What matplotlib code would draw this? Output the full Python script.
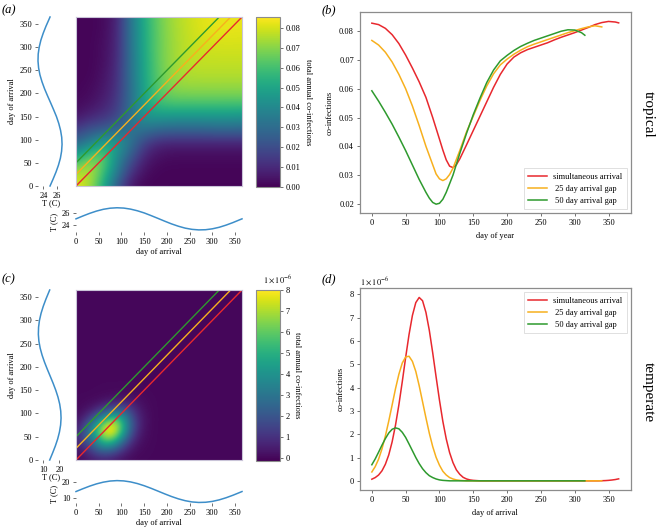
import numpy as np
import matplotlib
matplotlib.use('Agg')
import matplotlib.pyplot as plt

plt.rcParams['font.family'] = ['Liberation Serif', 'DejaVu Serif']
plt.rcParams['mathtext.fontset'] = 'stix'
plt.rcParams['font.size'] = 6
plt.rcParams['axes.linewidth'] = 0.8

# ---------------- data ----------------
# temperature seasonality (day of year -> deg C)
temp_days = [0, 15, 30, 45, 60, 75, 90, 105, 120, 135, 150, 165, 180, 195, 210, 225,
             240, 255, 270, 285, 300, 315, 330, 345, 360, 365]
temp_trop = [25.00, 25.46, 25.89, 26.26, 26.55, 26.73, 26.80, 26.75, 26.58, 26.31, 25.96,
             25.53, 25.08, 24.62, 24.18, 23.80, 23.49, 23.29, 23.20, 23.23, 23.38, 23.63,
             23.98, 24.39, 24.85, 25.00]
temp_temp = [14.00, 15.81, 17.51, 18.97, 20.09, 20.82, 21.10, 20.90, 20.25, 19.18, 17.77,
             16.11, 14.31, 12.49, 10.77, 9.26, 8.06, 7.25, 6.91, 7.04, 7.61, 8.61, 9.97,
             11.59, 13.39, 14.00]

# arrival gaps of the three scenarios
gaps = [0, 25, 50]
labels = ['simultaneous arrival', ' 25 day arrival gap', ' 50 day arrival gap']
colors = ['#e8282e', '#f7b01e', '#2e9a2e']

# tropical heat map (values x 1e-3), rows = day of arrival (y) 0..365, cols = day (x) 0..365
heat_a_days = [0, 30, 61, 91, 122, 152, 183, 213, 243, 274, 304, 335, 365]
heat_a = [
    [83, 74, 52, 22, 4, 1, 1, 1, 1, 1, 1, 1, 1],
    [75, 78.5, 60, 35, 12, 3, 1, 1, 1, 1, 1, 1, 1],
    [52, 68, 67, 40, 22, 7, 3, 2, 2, 2, 2, 2, 2],
    [30, 38, 53, 48, 32, 15, 8, 7, 7, 7, 7, 7, 7],
    [15, 22, 24, 30, 33, 32, 28, 27, 27, 27, 28, 28, 28],
    [4, 8, 12, 17, 33, 46, 47, 46, 46, 46, 46, 46, 45],
    [2, 3, 7, 14, 32, 50, 61, 63, 63, 63, 63, 63, 63],
    [1, 2, 5, 12, 32, 51, 63.5, 71, 72, 72, 72, 72, 72],
    [1, 1, 4, 11, 33, 52, 65, 72.5, 75.5, 76, 76, 76, 76],
    [1, 1, 3, 10, 33, 52, 66, 73, 77, 78, 78, 78, 78],
    [1, 1, 3, 9, 34, 53, 66, 73, 77.5, 79, 80, 80, 80],
    [1, 1, 2, 9, 34, 53, 66, 73.5, 77.5, 81, 82, 82.5, 82],
    [1, 1, 2, 8, 35, 54, 66.5, 74, 78, 81.5, 83, 82.5, 83],
]

# temperate heat map blob (values x 1e-6), days 0..165 step 15; zero elsewhere (grid step 15)
heat_c_block = [
    [0.07, 0.19, 0.38, 0.57, 0.66, 0.59, 0.40, 0.21, 0.08, 0.02, 0.01, 0.00],
    [0.22, 0.43, 0.90, 1.46, 1.80, 1.69, 1.22, 0.66, 0.28, 0.09, 0.03, 0.01],
    [0.46, 0.96, 1.67, 2.85, 3.73, 3.71, 2.82, 1.63, 0.72, 0.24, 0.07, 0.02],
    [0.66, 1.51, 2.80, 4.25, 5.88, 6.21, 4.99, 3.07, 1.44, 0.52, 0.14, 0.04],
    [0.66, 1.62, 3.24, 5.30, 7.09, 7.91, 6.76, 4.40, 2.19, 0.83, 0.24, 0.05],
    [0.45, 1.20, 2.59, 4.56, 6.56, 7.72, 6.98, 4.81, 2.53, 1.02, 0.31, 0.07],
    [0.21, 0.61, 1.42, 2.70, 4.19, 5.30, 5.49, 4.01, 2.24, 0.95, 0.31, 0.08],
    [0.07, 0.21, 0.54, 1.10, 1.84, 2.51, 2.80, 2.55, 1.51, 0.68, 0.23, 0.06],
    [0.02, 0.06, 0.14, 0.31, 0.56, 0.82, 0.99, 0.96, 0.78, 0.37, 0.14, 0.04],
    [0.01, 0.02, 0.04, 0.06, 0.12, 0.18, 0.24, 0.25, 0.22, 0.15, 0.06, 0.02],
    [0.00, 0.00, 0.00, 0.02, 0.02, 0.03, 0.04, 0.05, 0.04, 0.03, 0.02, 0.00],
    [0.00, 0.00, 0.00, 0.00, 0.01, 0.01, 0.01, 0.01, 0.01, 0.01, 0.00, 0.00],
]
heat_c_step = 15

# (b) tropical co-infections along the diagonals
b_red_days = [0, 10, 20, 30, 40, 50, 60, 70, 80, 90, 100, 105, 110, 115, 120, 125, 130, 140,
              150, 160, 170, 180, 190, 200, 210, 220, 230, 240, 250, 260, 270, 280, 290, 300,
              310, 320, 330, 340, 350, 360, 365]
b_red = [0.0828, 0.0823, 0.0810, 0.0788, 0.0757, 0.0717, 0.0672, 0.0624, 0.0570, 0.0500,
         0.0425, 0.0387, 0.0353, 0.0331, 0.0326, 0.0336, 0.0356, 0.0405, 0.0455, 0.0505,
         0.0555, 0.0605, 0.0650, 0.0686, 0.0710, 0.0725, 0.0736, 0.0744, 0.0752, 0.0760,
         0.0770, 0.0779, 0.0787, 0.0795, 0.0804, 0.0813, 0.0823, 0.0830, 0.0834, 0.0832,
         0.0829]
b_orange_days = [0, 10, 20, 30, 40, 50, 60, 70, 80, 90, 95, 100, 105, 110, 115, 120, 130,
                 140, 150, 160, 170, 180, 190, 200, 210, 220, 230, 240, 250, 260, 270, 280,
                 290, 300, 310, 320, 330, 340]
b_orange = [0.0768, 0.0752, 0.0727, 0.0693, 0.0650, 0.0600, 0.0540, 0.0472, 0.0400, 0.0336,
            0.0304, 0.0287, 0.0281, 0.0287, 0.0302, 0.0324, 0.0385, 0.0450, 0.0505, 0.0560,
            0.0610, 0.0652, 0.0683, 0.0703, 0.0720, 0.0734, 0.0746, 0.0755, 0.0763, 0.0771,
            0.0779, 0.0787, 0.0795, 0.0802, 0.0809, 0.0815, 0.0819, 0.0815]
b_green_days = [0, 10, 20, 30, 40, 50, 60, 70, 80, 85, 90, 95, 100, 105, 110, 120, 130, 140,
                150, 160, 170, 180, 190, 200, 210, 220, 230, 240, 250, 260, 270, 280, 290,
                300, 310, 315]
b_green = [0.0593, 0.0557, 0.0518, 0.0477, 0.0432, 0.0385, 0.0335, 0.0285, 0.0240, 0.0220,
           0.0205, 0.0199, 0.0202, 0.0216, 0.0240, 0.0300, 0.0375, 0.0445, 0.0510, 0.0568,
           0.0622, 0.0665, 0.0697, 0.0716, 0.0733, 0.0747, 0.0758, 0.0768, 0.0776, 0.0784,
           0.0792, 0.0800, 0.0805, 0.0804, 0.0795, 0.0786]

# (d) temperate co-infections (x 1e-6), days step 5
d_red = [0.07, 0.14, 0.25, 0.43, 0.71, 1.11, 1.67, 2.39, 3.26, 4.25, 5.29, 6.27, 7.09, 7.64,
         7.86, 7.72, 7.22, 6.45, 5.49, 4.46, 3.46, 2.55, 1.80, 1.21, 0.78, 0.47, 0.28, 0.15,
         0.08, 0.04, 0.02, 0.01,
         0, 0, 0, 0, 0, 0, 0, 0, 0, 0, 0, 0, 0, 0, 0, 0, 0, 0, 0, 0, 0, 0, 0, 0, 0, 0, 0, 0,
         0, 0, 0, 0, 0, 0, 0, 0,
         0.005, 0.01, 0.02, 0.035, 0.055, 0.085]
d_orange = [0.38, 0.61, 0.93, 1.37, 1.92, 2.56, 3.25, 3.95, 4.57, 5.05, 5.31, 5.34, 5.12,
            4.69, 4.08, 3.39, 2.70, 2.04, 1.47, 1.01, 0.67, 0.41, 0.25, 0.14, 0.08, 0.04,
            0.02, 0.01, 0.0,
            0, 0, 0, 0, 0, 0, 0, 0, 0, 0, 0, 0, 0, 0, 0, 0, 0, 0, 0, 0, 0, 0, 0, 0, 0, 0, 0,
            0, 0, 0, 0, 0, 0, 0, 0, 0, 0, 0, 0, 0]
d_green = [0.69, 0.94, 1.23, 1.53, 1.81, 2.05, 2.21, 2.27, 2.23, 2.08, 1.86, 1.58, 1.29,
           1.00, 0.74, 0.52, 0.35, 0.22, 0.14, 0.08, 0.04, 0.02, 0.01, 0.0,
           0, 0, 0, 0, 0, 0, 0, 0, 0, 0, 0, 0, 0, 0, 0, 0, 0, 0, 0, 0, 0, 0, 0, 0, 0, 0, 0,
           0, 0, 0, 0, 0, 0, 0, 0, 0, 0, 0, 0, 0]
d_step = 5

# ---------------- figure ----------------
W, H = 656, 528
fig = plt.figure(figsize=(W / 100, H / 100), dpi=100)
tcol = '#3d8ec9'
spcol = '0.55'


def ax_px(x0, y0, x1, y1):
    return fig.add_axes([x0 / W, 1 - y1 / H, (x1 - x0) / W, (y1 - y0) / H])


def style_ticks(ax):
    ax.tick_params(direction='out', length=2.5, width=0.6, color='0.35', pad=1.5,
                   labelsize=6)


def no_spines(ax):
    for s in ax.spines.values():
        s.set_visible(False)


def heat_panel(y0, y1, data, extent, vmin, vmax, cticks, ctlabels, temp, tlim_l, tlim_b,
               tticks, by0, by1, offset=None):
    ax = ax_px(76, y0, 242, y1)
    im = ax.imshow(data, origin='lower', extent=extent, cmap='viridis', vmin=vmin,
                   vmax=vmax, interpolation='bicubic', aspect='auto')
    ax.set_xlim(0, 365)
    ax.set_ylim(0, 365)
    ax.set_xticks([])
    ax.set_yticks([])
    for s in ax.spines.values():
        s.set_color('#c9c4d8')
        s.set_linewidth(0.8)
    for g, c in zip(gaps, colors):
        ax.plot([0, 365 - g], [g, 365], color=c, lw=1.0)

    cax = ax_px(256, y0, 280, y1 + 1)
    cb = fig.colorbar(im, cax=cax, ticks=cticks)
    cb.ax.set_yticklabels(ctlabels)
    cb.outline.set_edgecolor(spcol)
    cb.outline.set_linewidth(0.8)
    style_ticks(cb.ax)
    cb.set_label('total annual co-infections', rotation=270, labelpad=8, fontsize=6)
    if offset:
        cb.ax.text(0.3, 1.03, offset, transform=cb.ax.transAxes, ha='left',
                   va='bottom', fontsize=6)

    axl = ax_px(38, y0, 65, y1)
    axl.plot(temp, temp_days, color=tcol, lw=1.1, clip_on=False)
    axl.set_ylim(0, 365)
    axl.set_xlim(*tlim_l)
    axl.set_yticks(range(0, 351, 50))
    axl.set_xticks(tticks)
    no_spines(axl)
    style_ticks(axl)
    axl.set_xlabel('T (C)', labelpad=0, fontsize=6)
    axl.set_ylabel('day of arrival', labelpad=3, fontsize=6)

    axb = ax_px(76, by0, 242, by1)
    axb.plot(temp_days, temp, color=tcol, lw=1.1, clip_on=False)
    axb.set_xlim(0, 365)
    axb.set_ylim(*tlim_b)
    axb.set_xticks(range(0, 351, 50))
    axb.set_yticks(tticks)
    no_spines(axb)
    style_ticks(axb)
    axb.set_xlabel('day of arrival', labelpad=2, fontsize=6)
    axb.set_ylabel('T (C)', labelpad=1, fontsize=6)
    axb.yaxis.set_label_coords(-0.11, 0.36)


# (a) tropical heat map
half_a = 365 / (len(heat_a_days) - 1) / 2
heat_panel(17, 186, np.array(heat_a) * 1e-3,
           [-half_a, 365 + half_a, -half_a, 365 + half_a], 0, 0.0855,
           np.arange(0, 0.0801, 0.01), ['%.2f' % v for v in np.arange(0, 0.0801, 0.01)],
           temp_trop, (23.2, 27.24), (22.86, 27.25), [24, 26], 205, 232)

# (c) temperate heat map
n_c = 365 // heat_c_step + 1
heat_c = np.zeros((n_c, n_c))
blk = np.array(heat_c_block)
heat_c[:blk.shape[0], :blk.shape[1]] = blk
hc = heat_c_step / 2
ext_c = [-hc, (n_c - 1) * heat_c_step + hc, -hc, (n_c - 1) * heat_c_step + hc]
heat_panel(290, 460, heat_c, ext_c, -0.15, 8.0, list(range(0, 9)),
           [str(v) for v in range(0, 9)], temp_temp, (6.69, 23.56), (6.56, 23.44),
           [10, 20], 477, 503, offset=r'$1\times10^{-6}$')


def line_panel(y0, y1, series, xlabel, legend_loc, yticks=None, offset=None):
    ax = ax_px(359.5, y0, 631, y1)
    for (days, vals), c, lab in zip(series, colors, labels):
        ax.plot(days, vals, color=c, lw=1.1, label=lab)
    for s in ax.spines.values():
        s.set_color(spcol)
        s.set_linewidth(0.9)
    style_ticks(ax)
    ax.set_xticks(range(0, 351, 50))
    if yticks is not None:
        ax.set_yticks(yticks)
    ax.set_xlabel(xlabel, labelpad=4, fontsize=6)
    ax.set_ylabel('co-infections', labelpad=4, fontsize=6)
    leg = ax.legend(loc=legend_loc, fontsize=6, frameon=True, fancybox=False,
                    edgecolor='0.82', handlelength=2.2, borderaxespad=0.5,
                    labelspacing=0.5, borderpad=0.5)
    leg.get_frame().set_linewidth(0.6)
    if offset:
        ax.text(0.0, 1.008, offset, transform=ax.transAxes, ha='left', va='bottom',
                fontsize=6)
    return ax


# (b)
line_panel(12.3, 213.3, [(b_red_days, b_red), (b_orange_days, b_orange),
                         (b_green_days, b_green)], 'day of year', 'lower right')

# (d)
dr = [d_step * i for i in range(len(d_red))]
do = [d_step * i for i in range(len(d_orange))]
dg = [d_step * i for i in range(len(d_green))]
line_panel(288.3, 490, [(dr, d_red), (do, d_orange), (dg, d_green)], 'day of arrival',
           'upper right', yticks=list(range(0, 9)), offset=r'$1\times10^{-6}$')

# panel labels and row labels
for lab, x, y in [('(a)', 2, 10), ('(b)', 322, 10), ('(c)', 2, 279), ('(d)', 322, 279)]:
    fig.text(x / W, 1 - y / H, lab, fontsize=9, fontstyle='italic', ha='left',
             va='center')
fig.text(648 / W, 1 - 114 / H, 'tropical', rotation=270, fontsize=11, ha='center',
         va='center')
fig.text(648 / W, 1 - 392 / H, 'temperate', rotation=270, fontsize=11, ha='center',
         va='center')

fig.savefig('out.png', dpi=100)
